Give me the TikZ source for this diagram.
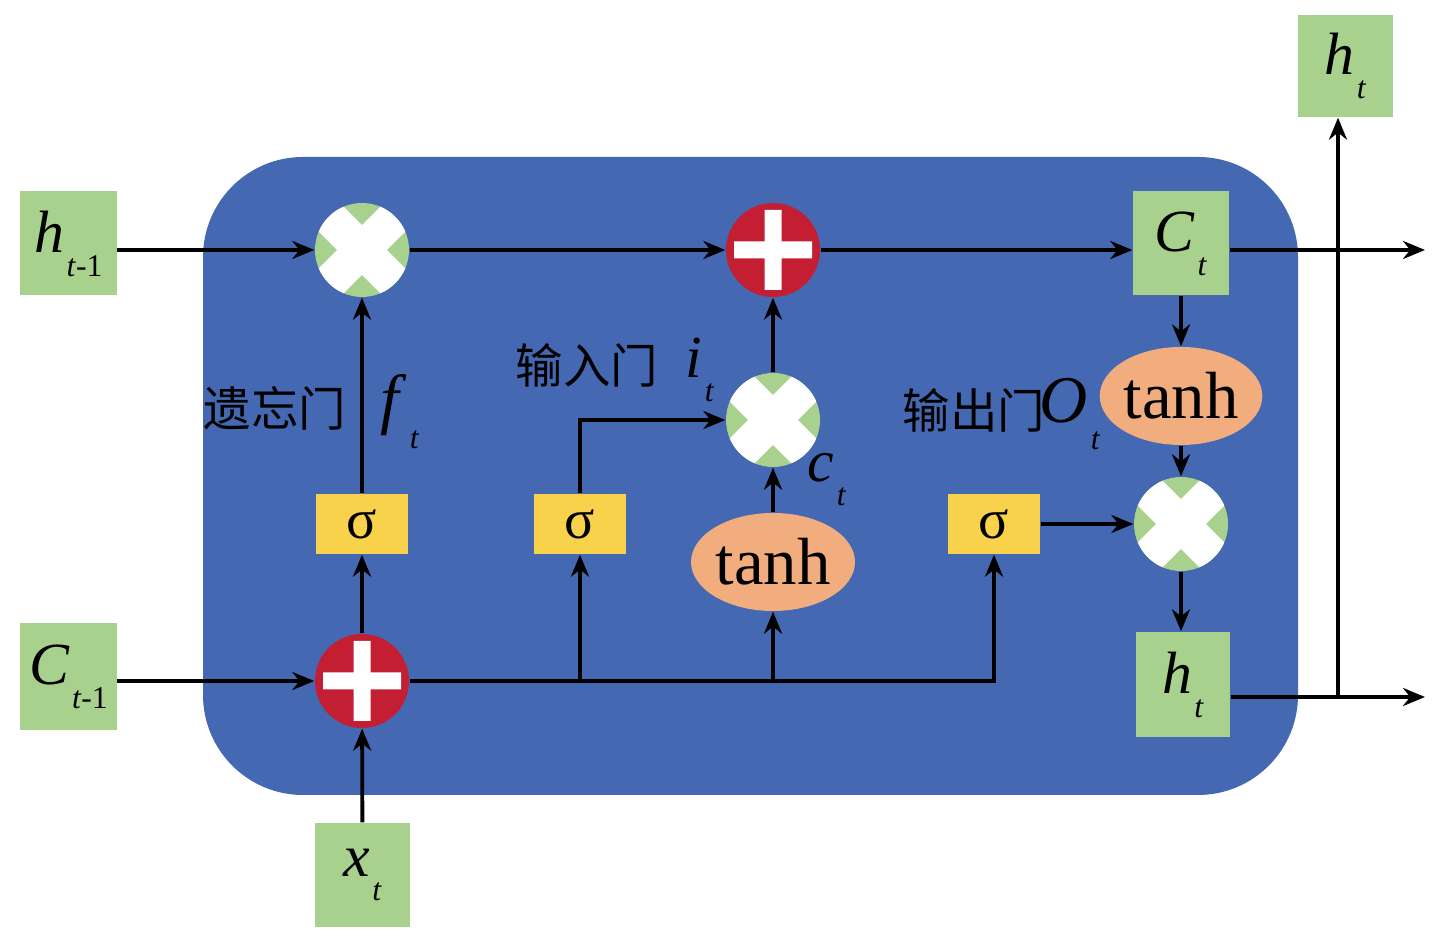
\documentclass[tikz,border=0pt]{standalone}
\usepackage{fontspec}
\setmainfont{LiberationSerif}[Extension=.ttf, UprightFont=*-Regular, ItalicFont=*-Italic, BoldFont=*-Bold]
\newfontfamily\cjk{Noto Sans CJK SC}
\usetikzlibrary{shapes.geometric, arrows.meta, positioning}
\definecolor{cellBlue}{HTML}{4468B2}
\definecolor{cellGreen}{HTML}{A9D18E}
\definecolor{cellGold}{HTML}{F9D24B}
\definecolor{cellPeach}{HTML}{F2AD7E}
\definecolor{cellRed}{HTML}{C41E33}
\newcommand{\lvar}[2]{\textit{#1}\kern0.04em\raisebox{-0.4em}{\fontsize{9}{9}\selectfont #2}}

\begin{document}
\begin{tikzpicture}[font=\fontsize{17}{17}\selectfont,
        var/.style={fill=cellGreen, minimum width=0.96cm, minimum height=1.04cm, inner sep=0pt},
        gate/.style={fill=cellGold, minimum width=0.92cm, minimum height=0.6cm, inner sep=0pt, font=\fontsize{16}{16}\selectfont},
        act/.style={ellipse, fill=cellPeach, minimum width=1.64cm, minimum height=0.98cm, inner sep=0pt, font=\fontsize{19}{19}\selectfont},
        mul/.style={circle, fill=cellGreen, minimum size=0.94cm, inner sep=0pt, path picture={
            \draw[white, line width=10pt] (path picture bounding box.north west) -- (path picture bounding box.south east)
              (path picture bounding box.south west) -- (path picture bounding box.north east);}},
        add/.style={circle, fill=cellRed, minimum size=0.94cm, inner sep=0pt, path picture={
            \fill[white] ([shift={(-0.39,-0.085)}]path picture bounding box.center) rectangle ([shift={(0.39,0.085)}]path picture bounding box.center)
              ([shift={(-0.085,-0.40)}]path picture bounding box.center) rectangle ([shift={(0.085,0.40)}]path picture bounding box.center);}},
        flow/.style={-{Stealth[length=2.2mm, width=1.8mm]}, line width=1.1pt},
        note/.style={font=\cjk\fontsize{13.5}{13.5}\selectfont}]
        \useasboundingbox (0,0) rectangle (14.47,9.42);
        \fill[cellBlue, rounded corners=1cm] (2.03,1.47) rectangle (12.98,7.85);
        % inputs and outputs
        \node[var] (hprev) at (0.685,6.985) {\lvar{h}{\textit{t}-1}};
        \node[var, minimum height=1.07cm] (cprev) at (0.685,2.655) {\lvar{C}{\textit{t}-1}};
        \node[var, minimum width=0.95cm] (xt) at (3.625,0.67) {\lvar{x}{\textit{t}}};
        \node[var] (ct) at (11.81,6.985) {\lvar{C}{\textit{t}}};
        \node[var, minimum width=0.94cm, minimum height=1.05cm] (ht) at (11.83,2.575) {\lvar{h}{\textit{t}}};
        \node[var, minimum width=0.95cm, minimum height=1.02cm] (htop) at (13.455,8.76) {\lvar{h}{\textit{t}}};
        % operators
        \node[mul] (fmul) at (3.62,6.92) {};
        \node[add] (cadd) at (7.73,6.92) {};
        \node[mul] (imul) at (7.73,5.22) {};
        \node[add] (xadd) at (3.62,2.61) {};
        \node[mul] (omul) at (11.81,4.18) {};
        % gates
        \node[gate] (sf) at (3.62,4.18) {σ};
        \node[gate] (si) at (5.80,4.18) {σ};
        \node[gate] (so) at (9.94,4.18) {σ};
        \node[act] (tanhc) at (7.73,3.80) {tanh};
        \node[act, minimum width=1.62cm] (tanho) at (11.81,5.46) {tanh};
        % labels
        \node[note] (flabel) at (2.75,5.34) {遗忘门};
        \node[font=\fontsize{19}{19}\selectfont] (fvar) at (4.0,5.3) {\lvar{f}{\textit{t}}};
        \node[note] (ilabel) at (5.87,5.77) {输入门};
        \node (ivar) at (7.0,5.72) {\lvar{i}{\textit{t}}};
        \node (cvar) at (8.27,4.62) {\lvar{c}{\textit{t}}};
        \node[note] (olabel) at (9.74,5.32) {输出门};
        \node[font=\fontsize{19}{19}\selectfont] (ovar) at (10.70,5.28) {\lvar{O}{\textit{t}}};
        % connectors
        \coordinate (cout) at (14.25,6.92);
        \coordinate (hout) at (14.25,2.45);
        \coordinate (hsplit) at (13.38,2.45);
        \draw[flow] (hprev.east |- fmul) -- (fmul);
        \draw[flow] (fmul) -- (cadd);
        \draw[flow] (cadd) -- (cadd -| ct.west);
        \draw[flow] (ct.east |- cadd) -- (cout);
        \draw[flow] (cprev.east |- xadd) -- (xadd);
        \draw[flow] (xt) -- (xadd);
        \draw[flow] (xadd) -- (sf);
        \draw[flow] (sf) -- (fmul);
        \draw[flow] (xadd) -| (si);
        \draw[flow] (si |- xadd) -| (so);
        \draw[flow] (tanhc |- xadd) -- (tanhc);
        \draw[flow] (si) |- (imul);
        \draw[flow] (tanhc) -- (imul);
        \draw[flow] (imul) -- (cadd);
        \draw[flow] (ct) -- (tanho);
        \draw[flow] (tanho) -- (omul);
        \draw[flow] (so) -- (omul);
        \draw[flow] (omul) -- (omul |- ht.north);
        \draw[flow] (ht.east |- hout) -- (hout);
        \draw[flow] (hsplit) -- (hsplit |- htop.south);
      \end{tikzpicture}
\end{document}
